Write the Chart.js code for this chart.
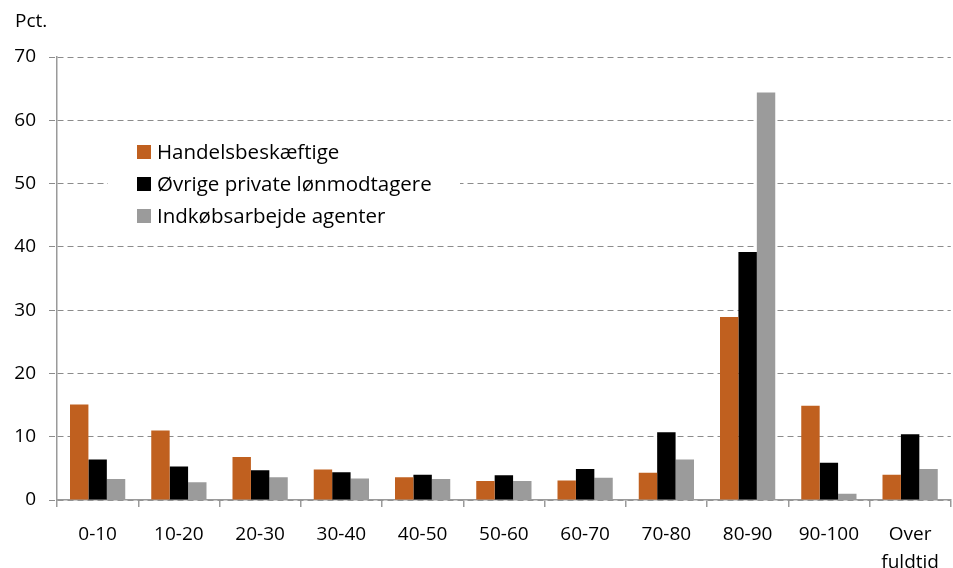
<!DOCTYPE html>
<html>
<head>
<meta charset="utf-8">
<script src="https://cdn.jsdelivr.net/npm/chart.js@4/dist/chart.umd.min.js"></script>
<style>
  html, body { margin: 0; padding: 0; background: #fff; }
  #wrap { position: relative; width: 953px; height: 568px; }
</style>
</head>
<body>
<div id="wrap"><canvas id="chart" width="953" height="568"></canvas></div>
<script>
// Data
const categories = ["0-10", "10-20", "20-30", "30-40", "40-50", "50-60", "60-70", "70-80", "80-90", "90-100", ["Over", "fuldtid"]];
const seriesNames = ["Handelsbeskæftige", "Øvrige private lønmodtagere", "Indkøbsarbejde agenter"];
const handelValues = [15.1, 11.0, 6.8, 4.8, 3.6, 3.0, 3.1, 4.3, 28.9, 14.9, 4.0];
const oevrigeValues = [6.4, 5.3, 4.7, 4.4, 4.0, 3.9, 4.9, 10.7, 39.2, 5.9, 10.4];
const indkoebValues = [3.3, 2.8, 3.6, 3.4, 3.3, 3.0, 3.5, 6.4, 64.4, 1.0, 4.9];
const yTicks = [0, 10, 20, 30, 40, 50, 60, 70];

const colors = ["#C0601F", "#000000", "#9B9B9B"];
const FONT = "'Open Sans', sans-serif";

// legend drawn inside the plot, with white background over the grid
const innerLegend = {
  id: "innerLegend",
  beforeDatasetsDraw(chart) {
    const c = chart.ctx;
    c.save();
    c.fillStyle = "#fff";
    c.fillRect(108, 132, 352, 102);
    c.font = "20.5px " + FONT;
    c.textBaseline = "middle";
    chart.data.datasets.forEach((ds, i) => {
      const y = 152 + i * 32;
      c.fillStyle = ds.backgroundColor;
      c.fillRect(137, y - 7, 14, 14);
      c.fillStyle = "#000";
      c.fillText(ds.label, 157, y + 1);
    });
    c.restore();
  },
  afterDraw(chart) {
    const c = chart.ctx;
    c.save();
    c.font = "19px " + FONT;
    c.fillStyle = "#000";
    c.textBaseline = "middle";
    c.fillText("Pct.", 15, 22);
    c.restore();
  }
};

const ctx = document.getElementById("chart").getContext("2d");
const chart = new Chart(ctx, {
  type: "bar",
  data: {
    labels: categories,
    datasets: [
      { label: seriesNames[0], data: handelValues, backgroundColor: colors[0] },
      { label: seriesNames[1], data: oevrigeValues, backgroundColor: colors[1] },
      { label: seriesNames[2], data: indkoebValues, backgroundColor: colors[2] },
    ],
  },
  options: {
    responsive: false,
    animation: false,
    layout: { padding: { top: 57, right: 1, left: 0, bottom: 0 } },
    plugins: {
      legend: { display: false },
      tooltip: { enabled: false },
    },
    datasets: {
      bar: { categoryPercentage: 0.68, barPercentage: 1.0 },
    },
    scales: {
      x: {
        offset: true,
        grid: {
          offset: true,
          drawOnChartArea: false,
          drawTicks: true,
          tickLength: 7,
          color: "#9a9a9a",
          lineWidth: 1.5,
        },
        border: { color: "#9a9a9a", width: 1.5 },
        ticks: {
          color: "#000",
          font: { family: FONT, size: 19, lineHeight: 1.45 },
          padding: 14,
          maxRotation: 0,
          autoSkip: false,
        },
        afterFit(scale) { scale.height = 68; },
      },
      y: {
        min: 0,
        max: 70,
        afterBuildTicks(scale) { scale.ticks = yTicks.map(v => ({ value: v })); },
        grid: {
          color: "#8c8c8c",
          lineWidth: 1,
          tickLength: 8,
          tickColor: "#8c8c8c",
          tickBorderDash: [6, 4],
        },
        border: { color: "#9a9a9a", width: 1.5, dash: [6, 4] },
        ticks: {
          color: "#000",
          font: { family: FONT, size: 19 },
          padding: 13,
        },
        afterFit(scale) { scale.width = 57; },
      },
    },
  },
  plugins: [innerLegend],
});
</script>
</body>
</html>
